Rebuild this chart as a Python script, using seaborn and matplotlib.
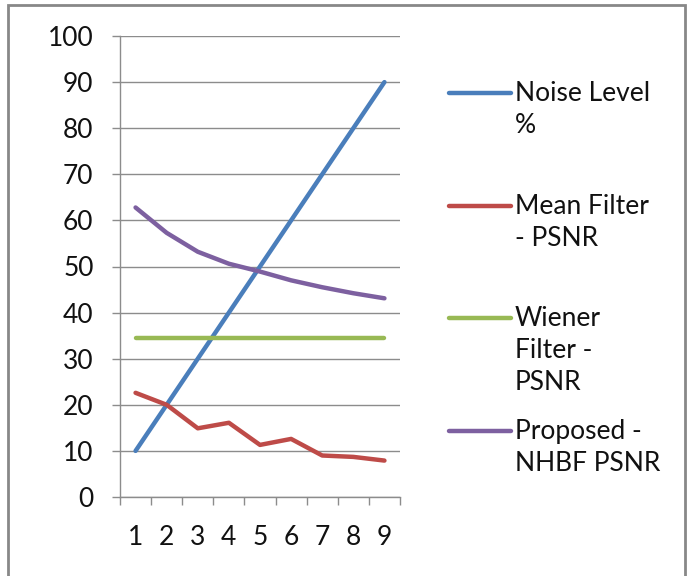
import matplotlib.pyplot as plt
import matplotlib.lines as mlines
import matplotlib.patches as mpatches
import numpy as np
import pandas as pd
import seaborn as sns

levels = [1, 2, 3, 4, 5, 6, 7, 8, 9]
noise_level = [10, 20, 30, 40, 50, 60, 70, 80, 90]
mean_filter = [22.6, 20.0, 14.9, 16.1, 11.3, 12.6, 9.0, 8.7, 7.9]
wiener_filter = [34.5, 34.5, 34.5, 34.5, 34.5, 34.5, 34.5, 34.5, 34.5]
proposed = [62.8, 57.3, 53.2, 50.6, 48.9, 47.0, 45.5, 44.2, 43.1]

series_names = ["Noise Level\n%", "Mean Filter\n- PSNR", "Wiener\nFilter -\nPSNR", "Proposed -\nNHBF PSNR"]
colors = ["#4A7EBB", "#BE4B48", "#98B954", "#7D60A0"]

df = pd.DataFrame({
    "level": levels * 4,
    "value": noise_level + mean_filter + wiener_filter + proposed,
    "series": np.repeat(series_names, len(levels)),
})

sns.set_style("white")
plt.rcParams["font.family"] = ["Lato", "DejaVu Sans"]

fig = plt.figure(figsize=(6.94, 5.76), dpi=100)
ax = fig.add_axes([120 / 694, 1 - 497 / 576, 280 / 694, 461 / 576])

sns.lineplot(data=df, x="level", y="value", hue="series", palette=colors,
             linewidth=3.2, ax=ax, legend=False, solid_capstyle="round")

grid_col = "#8c8c8c"
ax.set_xlim(0.5, 9.5)
ax.set_ylim(0, 100)
ax.set_yticks(range(0, 101, 10))
ax.set_xticks(np.arange(0.5, 10, 1))
ax.set_xticklabels([])
ax.set_xticks(levels, minor=True)
ax.set_xticklabels([str(v) for v in levels], minor=True)
ax.tick_params(axis="x", which="major", direction="out", length=6, width=1, color=grid_col, bottom=True)
ax.tick_params(axis="x", which="minor", length=0, pad=20, labelsize=19, labelcolor="#111111", bottom=True)
ax.tick_params(axis="y", direction="out", length=6, width=1, color=grid_col, pad=13, labelsize=19,
               labelcolor="#111111", left=True)
ax.grid(axis="y", color=grid_col, linewidth=1)
ax.set_axisbelow(True)
for side in ["top", "right"]:
    ax.spines[side].set_visible(False)
for side in ["left", "bottom"]:
    ax.spines[side].set_color(grid_col)
    ax.spines[side].set_linewidth(1)
ax.set_xlabel("")
ax.set_ylabel("")

# legend drawn beside the plot, handle aligned with first text line
legend_y = [93, 206, 318, 431]
for name, col, yp in zip(series_names, colors, legend_y):
    yf = 1 - yp / 576
    fig.add_artist(mlines.Line2D([449 / 694, 511 / 694], [yf, yf], color=col,
                                 linewidth=3.2, solid_capstyle="round"))
    fig.text(515 / 694, yf + 12 / 576, name, ha="left", va="top", fontsize=19,
             linespacing=1.36, color="#111111")

# outer chart border
fig.add_artist(mpatches.Rectangle((8 / 694, -0.01), 677 / 694, 1 - 5 / 576 + 0.01,
                                  transform=fig.transFigure, fill=False,
                                  edgecolor="#888888", linewidth=2))

fig.savefig("out.png", dpi=100)
